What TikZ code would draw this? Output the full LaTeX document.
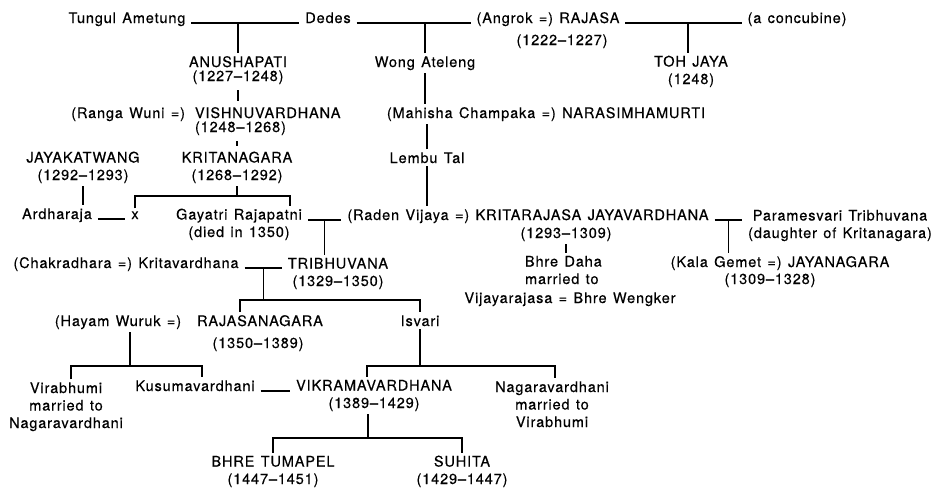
\documentclass[tikz,border=0pt]{standalone}
\usepackage{fontspec}
\setmainfont{TeX Gyre Heros}[LetterSpace=6, WordSpace=1.3, FakeBold=0.4]
\usetikzlibrary{calc}

\begin{document}
\begin{tikzpicture}[x=1pt, y=-1pt]
  \tikzstyle{PersonStyle}=[inner sep=0pt, outer sep=3pt, align=center, anchor=base,
    font=\fontsize{14.5}{17.5}\selectfont]
  \tikzstyle{TightStyle}=[font=\fontsize{14.5}{14}\selectfont]
  \tikzstyle{LineStyle}=[line width=1.1pt]
  \tikzstyle{MarriageStyle}=[line width=1.1pt, shorten <=3pt, shorten >=3pt]
  \tikzstyle{TickStyle}=[line width=1.1pt, shorten <=3pt, shorten >=3pt]
  \fill[white] (0,0) rectangle (935,488);
  \useasboundingbox (0,0) rectangle (935,488);

  % first generations (a node sits on the baseline of its last line)
  \node[PersonStyle] (tungul) at (127,23) {Tungul Ametung};
  \node[PersonStyle] (dedes) at (328,23) {Dedes};
  \node[PersonStyle] (rajasa) at (548,23) {(Angrok =) RAJASA};
  \node[PersonStyle] (rajasadates) at (562,45) {(1222--1227)};
  \node[PersonStyle] (concubine) at (797,23) {(a concubine)};
  \node[PersonStyle, TightStyle] (anushapati) at (238,81) {ANUSHAPATI\\(1227--1248)};
  \node[PersonStyle] (wong) at (425,67) {Wong Ateleng};
  \node[PersonStyle] (tohjaya) at (691,84) {TOH JAYA\\(1248)};
  \node[PersonStyle, anchor=base east] (rangawuni) at (188,118) {(Ranga Wuni =)};
  \node[PersonStyle, TightStyle, align=left, anchor=base west] (vishnu) at (192,132) {VISHNUVARDHANA\\(1248--1268)};
  \node[PersonStyle] (mahisha) at (546,118) {(Mahisha Champaka =) NARASIMHAMURTI};
  \node[PersonStyle] (jayakatwang) at (83,180) {JAYAKATWANG\\(1292--1293)};
  \node[PersonStyle] (kritanagara) at (237,180) {KRITANAGARA\\(1268--1292)};
  \node[PersonStyle] (lembutal) at (427,163) {Lembu Tal};

  % Singhasari to Majapahit
  \node[PersonStyle] (ardharaja) at (57,219) {Ardharaja};
  \node[PersonStyle] (xnode) at (135,219) {x};
  \node[PersonStyle] (gayatri) at (239,237) {Gayatri Rajapatni\\(died in 1350)};
  \node[PersonStyle] (raden) at (528,220) {(Raden Vijaya =) KRITARAJASA JAYAVARDHANA};
  \node[PersonStyle] (radendates) at (566,238) {(1293--1309)};
  \node[PersonStyle] (paramesvari) at (840,238) {Paramesvari Tribhuvana\\(daughter of Kritanagara)};
  \node[PersonStyle, align=left, anchor=base west] (bhredaha) at (522,284) {Bhre Daha\\married to};
  \node[PersonStyle] (vijayarajasa) at (570,303) {Vijayarajasa = Bhre Wengker};
  \node[PersonStyle] (kalagemet) at (780,267) {(Kala Gemet =) JAYANAGARA};
  \node[PersonStyle] (jayanagaradates) at (770,284) {(1309--1328)};
  \node[PersonStyle] (chakradhara) at (126,268) {(Chakradhara =) Kritavardhana};
  \node[PersonStyle] (tribhuvana) at (338,286) {TRIBHUVANA\\(1329--1350)};
  \node[PersonStyle] (hayam) at (118,326) {(Hayam Wuruk =)};
  \node[PersonStyle] (rajasanagara) at (260,326) {RAJASANAGARA};
  \node[PersonStyle] (rajasanagaradates) at (258,348) {(1350--1389)};
  \node[PersonStyle] (isvari) at (420,326) {Isvari};
  \node[PersonStyle] (virabhumi) at (66,428) {Virabhumi\\married to\\Nagaravardhani};
  \node[PersonStyle] (kusuma) at (195,391) {Kusumavardhani};
  \node[PersonStyle] (vikrama) at (374,408) {VIKRAMAVARDHANA\\(1389--1429)};
  \node[PersonStyle] (nagara) at (552,427) {Nagaravardhani\\married to\\Virabhumi};
  \node[PersonStyle] (tumapel) at (273,484) {BHRE TUMAPEL\\(1447--1451)};
  \node[PersonStyle] (suhita) at (462,484) {SUHITA\\(1429--1447)};

  % levels of the sibling bars
  \coordinate (kbar) at (0,196);
  \coordinate (tbar) at (0,300);
  \coordinate (hbar) at (0,366);
  \coordinate (vbar) at (0,438);

  % marriages and descent
  \draw[MarriageStyle] (tungul.base east) -- (dedes.base west);
  \draw[LineStyle] (anushapati.north) -- (anushapati.north |- tungul.base);
  \draw[MarriageStyle] (dedes.base east) -- (rajasa.base west);
  \draw[LineStyle] (wong.north) -- (wong.north |- dedes.base);
  \draw[MarriageStyle] (rajasa.base east) -- (concubine.base west);
  \draw[LineStyle] ([xshift=-3pt]tohjaya.north) -- ([xshift=-3pt]tohjaya.north |- rajasa.base);
  \draw[TickStyle] (anushapati.south) -- (anushapati.south |- vishnu.north);
  \draw[TickStyle] (kritanagara.north) -- (kritanagara.north |- vishnu.south);
  \draw[LineStyle] (wong.south) -- (wong.south |- mahisha.north);
  \draw[LineStyle] (lembutal.north) -- (lembutal.north |- mahisha.south);
  \draw[LineStyle] (lembutal.south) -- (lembutal.south |- raden.north);
  \draw[LineStyle] (jayakatwang.south) -- (jayakatwang.south |- ardharaja.north);
  \draw[MarriageStyle] (ardharaja.base east) -- (xnode.base west);
  \draw[LineStyle] (kritanagara.south) -- (kritanagara.south |- kbar);
  \draw[LineStyle] (xnode.north) -- (xnode.north |- kbar)
    -- ([xshift=51pt]gayatri.north |- kbar) -- ([xshift=51pt]gayatri.north);

  \draw[MarriageStyle] (gayatri.east |- raden.base) -- (raden.base west);
  \coordinate (grmid) at ($(gayatri.east |- raden.base)!0.5!(raden.base west)$);
  \draw[LineStyle] (grmid) -- (grmid |- tribhuvana.north);
  \draw[MarriageStyle] (raden.base east) -- (paramesvari.west |- raden.base);
  \coordinate (rpmid) at ($(raden.base east)!0.5!(paramesvari.west |- raden.base)$);
  \draw[LineStyle] (rpmid) -- (rpmid |- kalagemet.north);
  \draw[LineStyle] (radendates.south) -- (radendates.south |- bhredaha.north);

  \draw[MarriageStyle] (chakradhara.base east) -- (tribhuvana.west |- chakradhara.base);
  \coordinate (ctmid) at ($(chakradhara.base east)!0.5!(tribhuvana.west |- chakradhara.base)$);
  \draw[LineStyle] (ctmid) -- (ctmid |- tbar);
  \draw[LineStyle] ([xshift=-20pt]rajasanagara.north) -- ([xshift=-20pt]rajasanagara.north |- tbar)
    -- (isvari.north |- tbar) -- (isvari.north);

  \draw[LineStyle] ([xshift=12pt]hayam.south) -- ([xshift=12pt]hayam.south |- hbar);
  \draw[LineStyle] ([xshift=5pt]virabhumi.north) -- ([xshift=5pt]virabhumi.north |- hbar)
    -- ([xshift=7pt]kusuma.north |- hbar) -- ([xshift=7pt]kusuma.north);
  \draw[LineStyle] (isvari.south) -- (isvari.south |- hbar);
  \draw[LineStyle] ([xshift=-7pt]vikrama.north) -- ([xshift=-7pt]vikrama.north |- hbar)
    -- ([xshift=3pt]nagara.north |- hbar) -- ([xshift=3pt]nagara.north);
  \draw[MarriageStyle] (kusuma.base east) -- (vikrama.west |- kusuma.base);

  \draw[LineStyle] ([xshift=-6pt]vikrama.south) -- ([xshift=-6pt]vikrama.south |- vbar);
  \draw[LineStyle] (tumapel.north) -- (tumapel.north |- vbar)
    -- (suhita.north |- vbar) -- (suhita.north);
\end{tikzpicture}
\end{document}
